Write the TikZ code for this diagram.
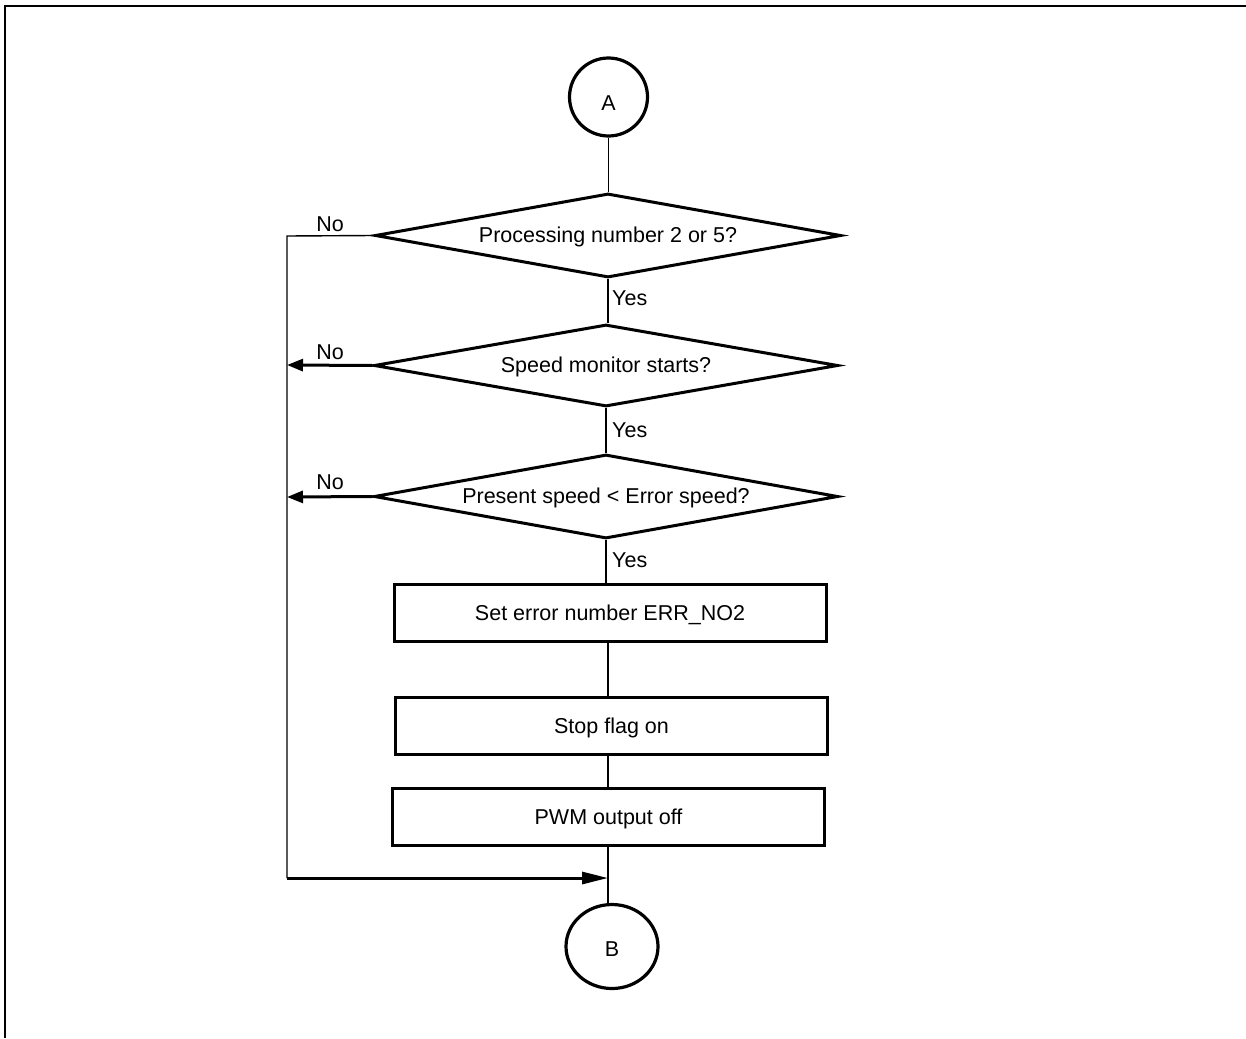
\documentclass[tikz,border=0pt]{standalone}
\usepackage{fontspec}
\setmainfont{Liberation Sans}
\usetikzlibrary{shapes.geometric,arrows.meta}

% lower a label's ink without changing its nominal box
\newcommand{\lowered}[2]{\raisebox{-#1}[\height][\depth]{#2}}

\begin{document}
\begin{tikzpicture}[x=1pt,y=-1pt,
  txt/.style={font=\fontsize{21.5}{25}\selectfont},
  decision/.style={draw,diamond,aspect=5.4,line width=3pt,inner sep=0pt,txt},
  procbox/.style={draw,rectangle,line width=3pt,minimum width=432pt,minimum height=57pt,inner sep=0pt,txt},
  connector/.style={draw,ellipse,line width=3.2pt,inner sep=0pt,txt},
  thinline/.style={line width=1.4pt},
  thickarrow/.style={line width=3pt,-{Triangle[length=16pt,width=12pt]}},
  lbl/.style={txt,inner sep=0pt}
]
% page extent and frame
\useasboundingbox (0,0) rectangle (1246,1038);
\draw[line width=2.2pt] (5,1038) -- (5,6) -- (1246,6);

% nodes
\node[connector,minimum width=78pt,minimum height=78pt] (A) at (608.5,97) {\lowered{6pt}{A}};
\node[decision,minimum width=466pt,minimum height=84pt] (d1) at (608,235.5) {\lowered{1pt}{Processing number 2 or 5?}};
\node[decision,minimum width=464pt,minimum height=82pt] (d2) at (606,365.5) {\lowered{1pt}{Speed monitor starts?}};
\node[decision,minimum width=464pt,minimum height=84pt] (d3) at (606,496.5) {\lowered{1pt}{Present speed < Error speed?}};
\node[procbox] (r1) at (610,613) {\lowered{2pt}{Set error number ERR\_NO2}};
\node[procbox] (r2) at (611.5,725.5) {\lowered{2pt}{Stop flag on}};
\node[procbox] (r3) at (608.5,816.5) {\lowered{2pt}{PWM output off}};
\node[connector,minimum width=92pt,minimum height=84pt] (B) at (612,946.5) {\lowered{3pt}{B}};

% junction points of the bypass line
\coordinate (j1) at (287,236);
\coordinate (j2) at (287,365);
\coordinate (j3) at (287,497);
\coordinate (j4) at (287,878);
\coordinate (m) at (608,878);

% main flow
\draw[thinline] (A.south) -- (A.south |- d1.north);
\draw[thinline] (d1.south) -- (d1.south |- d2.north);
\draw[thinline] (d2.south) -- (d2.south |- d3.north);
\draw[thinline] (d3.south) -- (d3.south |- r1.north);
\draw[thinline] (r1.south -| m) -- (r2.north -| m);
\draw[thinline] (r2.south -| m) -- (r3.north -| m);
\draw[thinline] (r3.south -| m) -- (m |- B.north);

% "No" branches
\draw[thinline] (d1.west) -- (j1) -- (j4);
\draw[thickarrow] (d2.west) -- (j2);
\draw[thickarrow] (d3.west) -- (j3);
\draw[line width=3pt,-{Triangle[length=26pt,width=12pt]}] (j4) -- (m);

% branch labels
\node[lbl] (no1) at (330,224) {No};
\node[lbl] (no2) at (330,352) {No};
\node[lbl] (no3) at (330,482) {No};
\node[lbl,anchor=west] (yes1) at (612,298) {Yes};
\node[lbl,anchor=west] (yes2) at (612,430) {Yes};
\node[lbl,anchor=west] (yes3) at (612,560) {Yes};
\end{tikzpicture}
\end{document}
